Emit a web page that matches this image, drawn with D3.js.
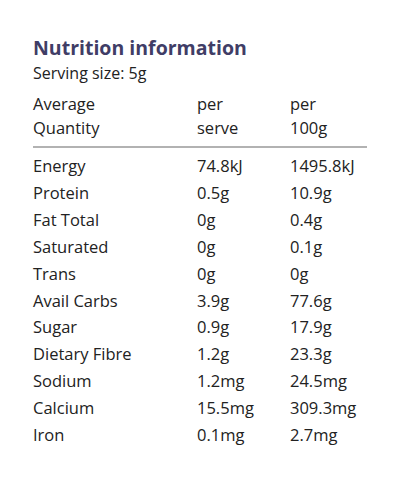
<!DOCTYPE html>
<html><head><meta charset="utf-8">
<script src="https://cdn.jsdelivr.net/npm/d3@7"></script>
<style>body{margin:0;background:#fff}</style>
</head><body>
<script>
// table data
const nutrients = ["Energy","Protein","Fat Total","Saturated","Trans","Avail Carbs","Sugar","Dietary Fibre","Sodium","Calcium","Iron"];
const perServe = ["74.8kJ","0.5g","0g","0g","0g","3.9g","0.9g","1.2g","1.2mg","15.5mg","0.1mg"];
const per100g = ["1495.8kJ","10.9g","0.4g","0.1g","0g","77.6g","17.9g","23.3g","24.5mg","309.3mg","2.7mg"];
const headers = [["Average","Quantity"],["per","serve"],["per","100g"]];

const svg = d3.select("body").append("svg").attr("width",406).attr("height",480);
const font = "'Open Sans', sans-serif";
const colX = [33, 197, 290];

svg.append("text").attr("x",33).attr("y",55).text("Nutrition information")
  .style("font-family",font).style("font-weight","bold").style("font-size","19.5px").attr("fill","#403d66");
svg.append("text").attr("x",33).attr("y",79).text("Serving size: 5g")
  .style("font-family",font).style("font-size","16px").attr("fill","#222");

headers.forEach(function(h,i){
  h.forEach(function(t,j){
    svg.append("text").attr("x",colX[i]).attr("y",110 + j*24).text(t)
      .style("font-family",font).style("font-size","16.5px").attr("fill","#222");
  });
});

svg.append("line").attr("x1",33).attr("x2",367).attr("y1",147).attr("y2",147)
  .attr("stroke","#666").attr("stroke-width",1.2);

const y = d3.scalePoint().domain(nutrients).range([172,441]);
const rows = svg.selectAll("g.row").data(nutrients).enter().append("g")
  .attr("transform",d => "translate(0,"+y(d)+")");
rows.append("text").attr("x",colX[0]).text(d=>d);
rows.append("text").attr("x",colX[1]).text((d,i)=>perServe[i]);
rows.append("text").attr("x",colX[2]).text((d,i)=>per100g[i]);
rows.selectAll("text").style("font-family",font).style("font-size","16.5px").attr("fill","#222");
</script>
</body></html>
